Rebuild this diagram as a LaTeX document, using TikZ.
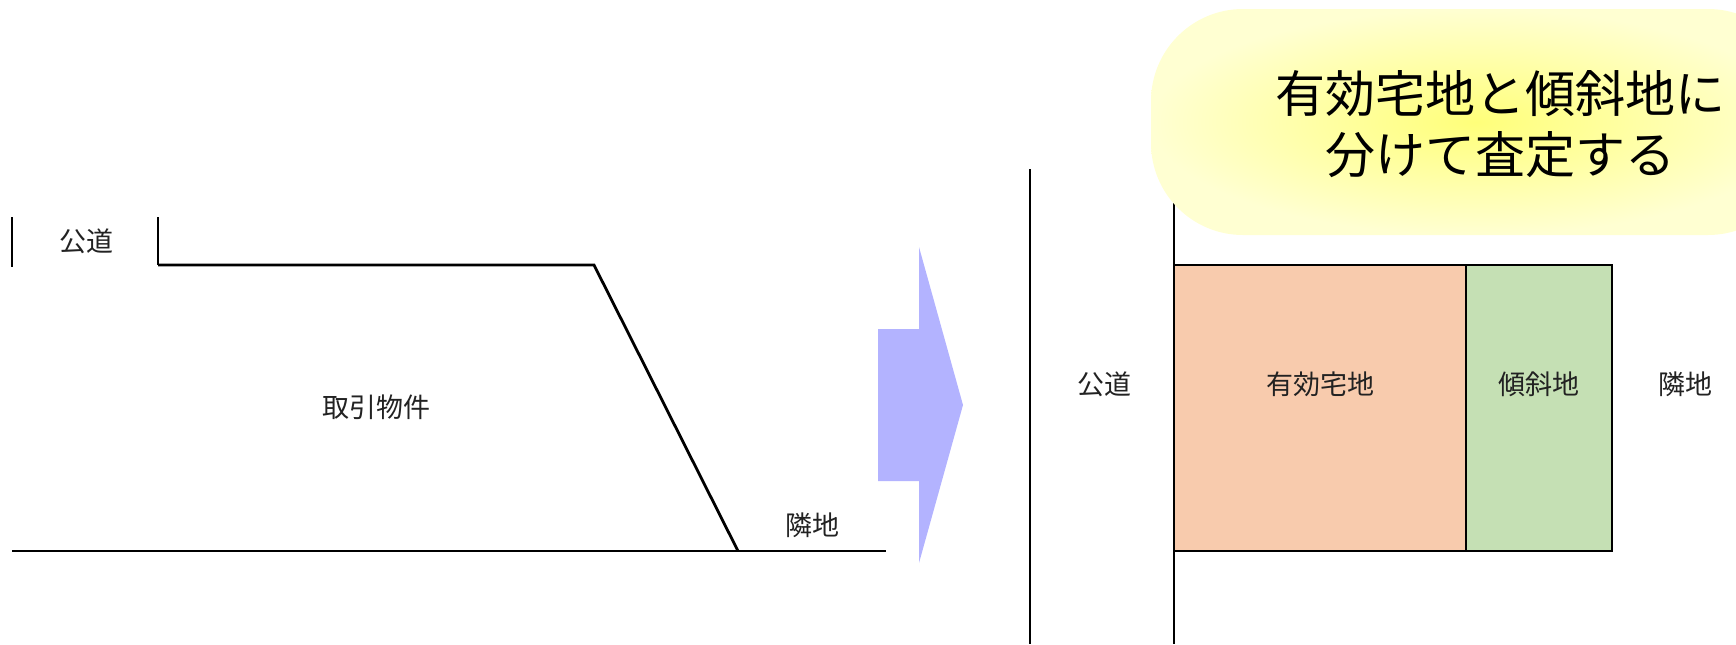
\documentclass[tikz,border=0pt]{standalone}
\usepackage{fontspec}
\setmainfont{Noto Sans CJK JP}
\definecolor{peach}{HTML}{F8CBAD}
\definecolor{leaf}{HTML}{C5E0B4}
\definecolor{arrowblue}{HTML}{B3B3FF}
\definecolor{bubin}{HTML}{FFFF7A}
\definecolor{bubout}{HTML}{FFFFD2}
\definecolor{txt}{HTML}{222222}
\begin{document}
\begin{tikzpicture}[x=0.5pt,y=-0.5pt,
  lbl/.style={text=txt,font=\fontsize{13.5}{16}\selectfont,inner sep=0pt},
  thinline/.style={line width=0.55pt,black},
  thickline/.style={line width=1.4pt,black},
  boxline/.style={line width=0.85pt,black}]
\clip (0,0) rectangle (1736,644);
\useasboundingbox (0,0) rectangle (1736,644);

% ---- left: current parcel ----
\coordinate (a1) at (12,217);
\coordinate (a2) at (12,267);
\coordinate (b1) at (158,217);
\coordinate (b2) at (158,265);
\coordinate (c) at (594,265);
\coordinate (d) at (738,551);
\coordinate (e1) at (12,551);
\coordinate (e2) at (886,551);
\draw[thinline] (a1) -- (a2);
\draw[line width=0.8pt] (b1) -- (b2);
\draw[thickline,line join=miter] (b2) -- (c) -- (d);
\draw[thinline] (e1) -- (e2);
\node[lbl] (road1) at (87,241) {公道};
\node[lbl] (prop) at (376,407) {取引物件};
\node[lbl] (nb1) at (812,525) {隣地};

% ---- big arrow ----
\fill[arrowblue] (878,329) -- (919,329) -- (919,247) -- (963,405) -- (919,563) -- (919,481) -- (878,481) -- cycle;

% ---- right: divided parcel ----
\coordinate (v1t) at (1030,169);
\coordinate (v1b) at (1030,644);
\coordinate (v2t) at (1174,169);
\coordinate (v2b) at (1174,644);
\draw[thinline] (v1t) -- (v1b);
\draw[thinline] (v2t) -- (v2b);
\draw[boxline,fill=peach] (1174,265) rectangle (1466,551);
\draw[boxline,fill=leaf] (1466,265) rectangle (1612,551);
\node[lbl] (road2) at (1104,384) {公道};
\node[lbl] (eff) at (1320,384) {有効宅地};
\node[lbl] (slope) at (1539,384) {傾斜地};
\node[lbl] (nb2) at (1685,384) {隣地};

% ---- callout bubble ----
\shade[inner color=bubin,outer color=bubout,rounded corners=46pt]
  (1151,9) rectangle (1800,235);
\node[align=center,text=black,inner sep=0pt,
  font=\fontsize{25}{30.5}\selectfont] (callout) at (1500,124)
  {有効宅地と傾斜地に\\分けて査定する};
\end{tikzpicture}
\end{document}
